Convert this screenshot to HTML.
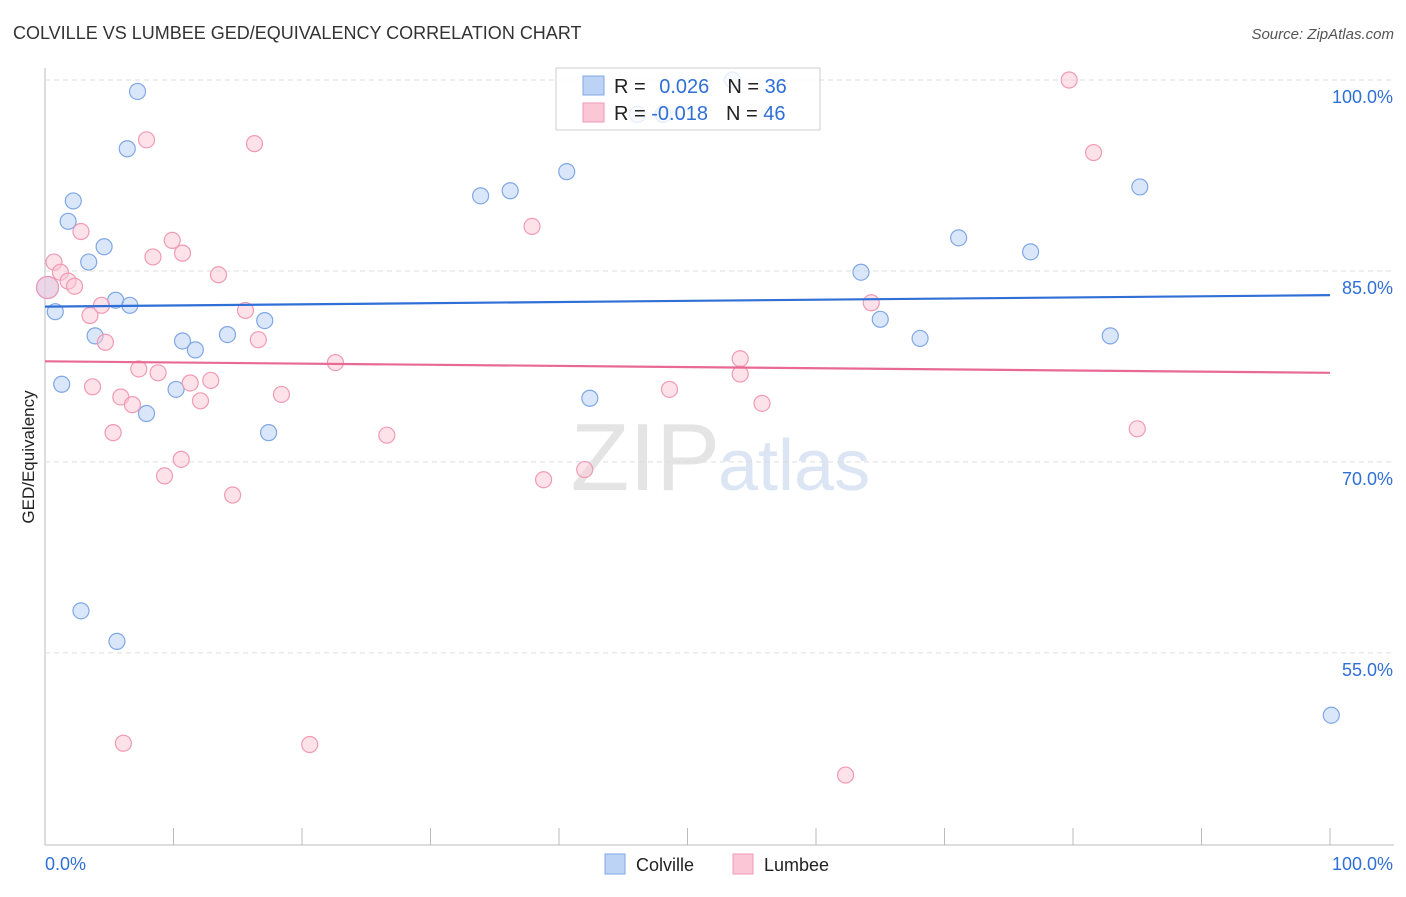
<!DOCTYPE html>
<html><head><meta charset="utf-8"><style>
body{margin:0;background:#fff;font-family:"Liberation Sans",sans-serif;}
svg text{font-family:"Liberation Sans",sans-serif;}
</style></head><body>
<svg id="chart" width="1406" height="892" xmlns="http://www.w3.org/2000/svg">
<text x="13" y="39" font-size="18" fill="#333">COLVILLE VS LUMBEE GED/EQUIVALENCY CORRELATION CHART</text>
<text x="1394" y="39" font-size="15" fill="#555" text-anchor="end" font-style="italic">Source: ZipAtlas.com</text>
<text transform="translate(34,457) rotate(-90)" font-size="17" fill="#222" text-anchor="middle">GED/Equivalency</text>
<text x="720" y="490" font-size="96" fill="#e4e4e4" text-anchor="end" font-family="Liberation Serif">ZIP</text>
<text x="718" y="490" font-size="72" fill="#dbe5f3">atlas</text>
<g id="grid"></g><g id="pts"></g><g id="lines"></g>
<g>
<rect x="556" y="68" width="264" height="62" fill="#fff" fill-opacity="0.8" stroke="#ccc"/>
<rect x="583" y="76" width="21" height="19" fill="#bcd3f5" stroke="#7fa7e6"/>
<rect x="583" y="103" width="21" height="19" fill="#fbc6d6" stroke="#f09ab5"/>
<text x="614" y="93" font-size="20" fill="#222">R = <tspan fill="#2f6fd6" dx="8">0.026</tspan><tspan dx="18" fill="#222">N = </tspan><tspan fill="#2f6fd6">36</tspan></text>
<text x="614" y="120" font-size="20" fill="#222">R = <tspan fill="#2f6fd6">-0.018</tspan><tspan dx="18" fill="#222">N = </tspan><tspan fill="#2f6fd6">46</tspan></text>
</g>
<g>
<rect x="605" y="854" width="20" height="20" fill="#bcd3f5" stroke="#7fa7e6"/>
<text x="636" y="871" font-size="18" fill="#222">Colville</text>
<rect x="733" y="854" width="20" height="20" fill="#fbc6d6" stroke="#f09ab5"/>
<text x="764" y="871" font-size="18" fill="#222">Lumbee</text>
</g>
</svg>
<script>
const yTicks=[100,85,70,55];
const yTickLabels=["100.0%","85.0%","70.0%","55.0%"];
const colvilleX=[7.2,6.4,2.2,1.8,4.6,3.4,0.2,0.8,5.5,6.6,3.9,10.7,11.7,14.2,17.1,1.3,10.2,7.9,17.4,2.8,5.6,33.9,36.2,40.6,53.5,42.4,63.5,65,68.1,71.1,76.7,82.9,85.2,100.1,46.1,48.1];
const colvilleY=[99.1,94.6,90.5,88.9,86.9,85.7,83.7,81.8,82.7,82.3,79.9,79.5,78.8,80,81.1,76.1,75.7,73.8,72.3,58.3,55.9,90.9,91.3,92.8,100,75,84.9,81.2,79.7,87.6,86.5,79.9,91.6,50.1,97.3,97.3];
const lumbeeX=[7.9,16.3,79.7,81.6,2.8,9.9,10.7,8.4,0.7,1.2,1.8,2.3,13.5,37.9,4.4,3.5,15.6,16.6,4.7,22.6,7.3,8.8,3.7,11.3,12.9,5.9,6.8,12.1,18.4,5.3,10.6,9.3,14.6,26.6,38.8,42,48.6,54.1,54.1,55.8,64.3,85,6.1,20.6,62.3,0.2];
const lumbeeY=[95.3,95,100,94.3,88.1,87.4,86.4,86.1,85.7,84.9,84.2,83.8,84.7,88.5,82.3,81.5,81.9,79.6,79.4,77.8,77.3,77,75.9,76.2,76.4,75.1,74.5,74.8,75.3,72.3,70.2,68.9,67.4,72.1,68.6,69.4,75.7,78.1,76.9,74.6,82.5,72.6,47.9,47.8,45.4,83.7];
const colvilleTrend=[82.2,83.1];
const lumbeeTrend=[77.9,77];
const NS="http://www.w3.org/2000/svg";
const sx=v=>45+v*12.85;
const sy=v=>80+(100-v)*12.73;
function mk(t,a,p){const e=document.createElementNS(NS,t);for(const k in a)e.setAttribute(k,a[k]);p.appendChild(e);return e;}
const grid=document.getElementById('grid');
mk('line',{x1:45,y1:68,x2:45,y2:845,stroke:'#bbb'},grid);
mk('line',{x1:45,y1:845,x2:1394,y2:845,stroke:'#bbb'},grid);
for(let i=0;i<=10;i++){mk('line',{x1:sx(i*10),y1:828,x2:sx(i*10),y2:845,stroke:'#bbb'},grid);}
yTicks.forEach((t,i)=>{
 const g=mk('line',{x1:45,y1:sy(t),x2:1394,y2:sy(t),stroke:'#ddd','stroke-dasharray':'5,4'},grid);
 
 
 const tx=mk('text',{x:1393,y:sy(t)+23,'font-size':18,fill:'#2f6fd6','text-anchor':'end'},grid);
 tx.textContent=yTickLabels[i];
 
 
});
const x0=mk('text',{x:45,y:870,'font-size':18,fill:'#2f6fd6'},grid);x0.textContent='0.0%';


const x1=mk('text',{x:1393,y:870,'font-size':18,fill:'#2f6fd6','text-anchor':'end'},grid);x1.textContent='100.0%';


const pts=document.getElementById('pts');
colvilleX.forEach((x,i)=>{const c=mk('circle',{cx:sx(x),cy:sy(colvilleY[i]),r:i==6?11:8,fill:'#bcd3f5','fill-opacity':0.55,stroke:'#7fa7e6','stroke-width':1.2},pts);

});
lumbeeX.forEach((x,i)=>{const c=mk('circle',{cx:sx(x),cy:sy(lumbeeY[i]),r:i==45?11:8,fill:'#fbc6d6','fill-opacity':0.5,stroke:'#f09ab5','stroke-width':1.2},pts);

});
const ln=document.getElementById('lines');
const l1=mk('line',{x1:sx(0),y1:sy(colvilleTrend[0]),x2:sx(100),y2:sy(colvilleTrend[1]),stroke:'#2f6fd6','stroke-width':2.2},ln);


const l2=mk('line',{x1:sx(0),y1:sy(lumbeeTrend[0]),x2:sx(100),y2:sy(lumbeeTrend[1]),stroke:'#e86a94','stroke-width':2.2},ln);


</script>
</body></html>
